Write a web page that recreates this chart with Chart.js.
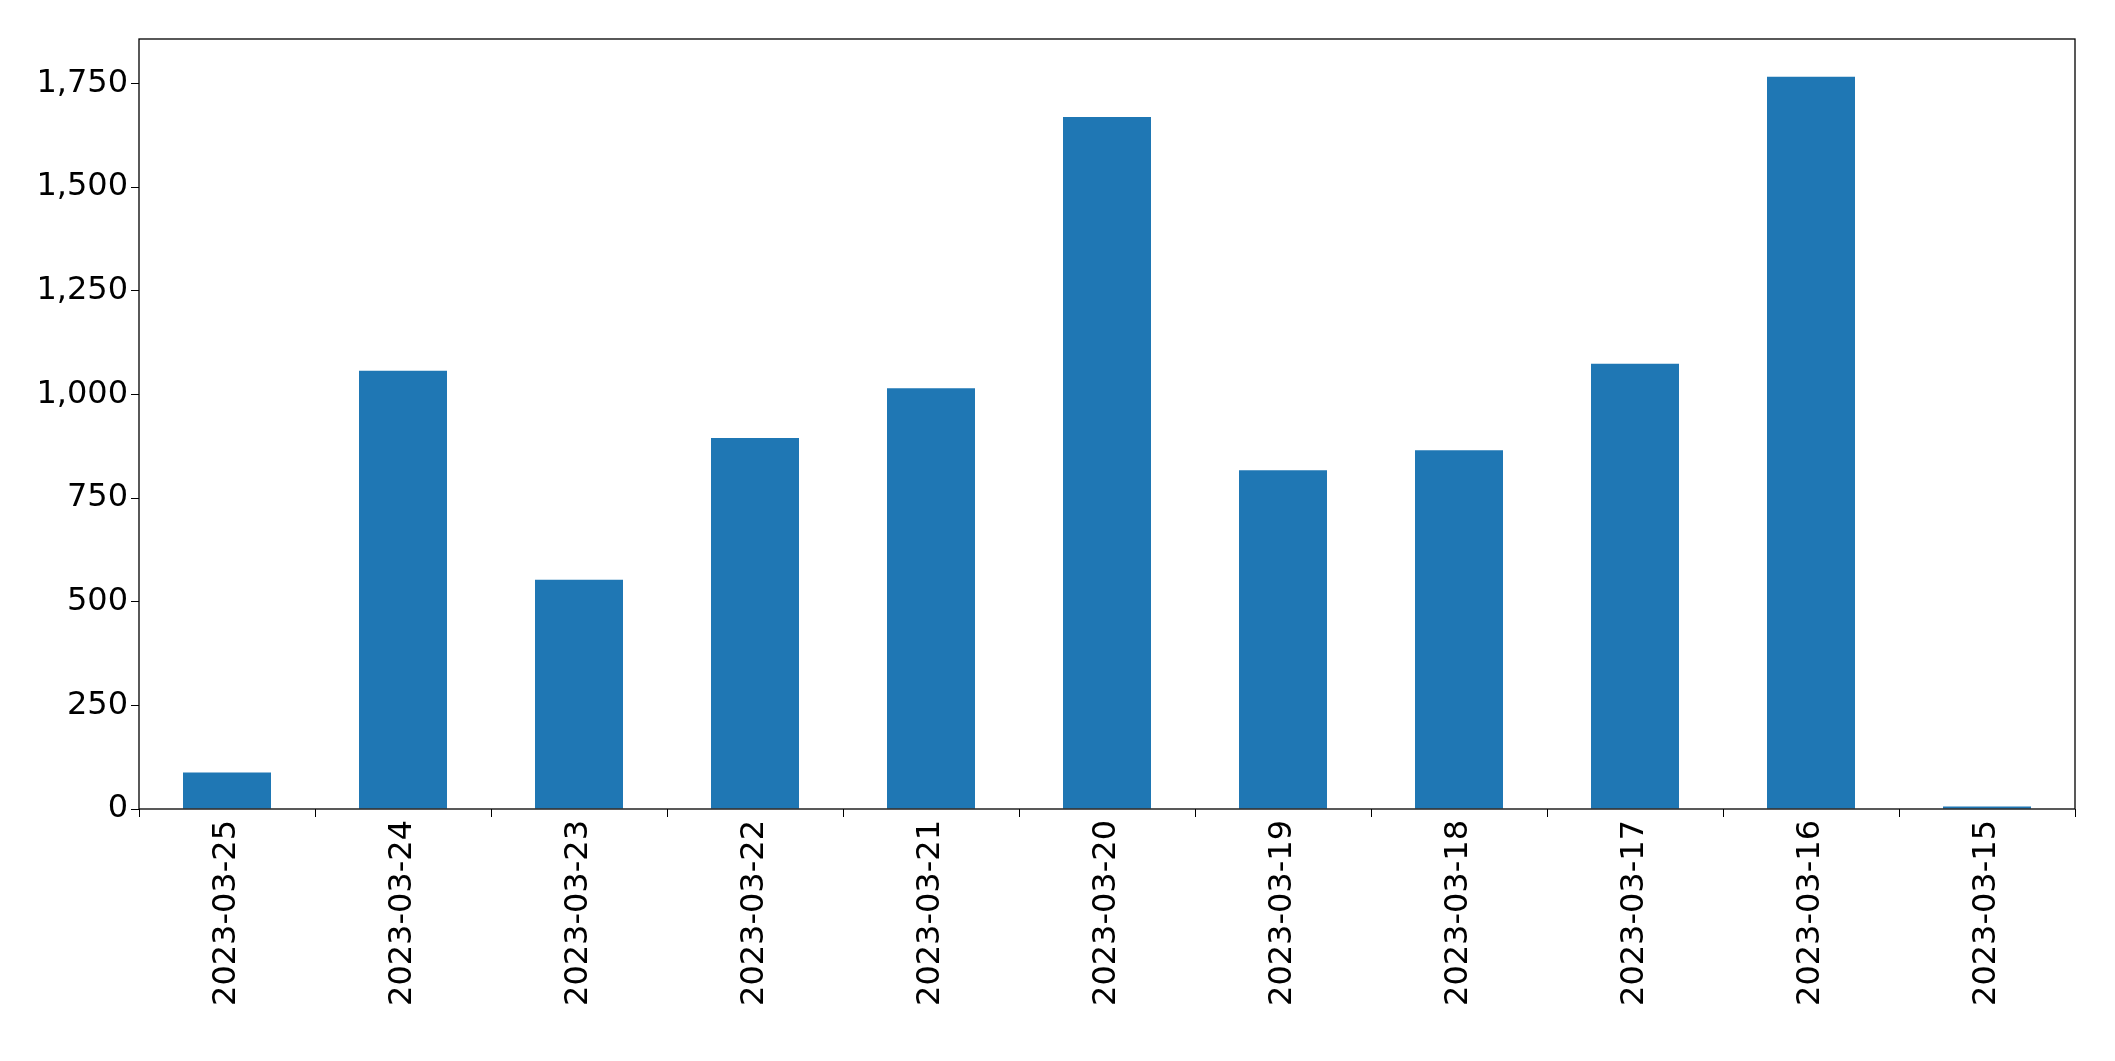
<html>
<head>
<script src="https://cdn.jsdelivr.net/npm/chart.js@4"></script>
</head>
<body style="margin:0;background:#fff">
<canvas id="c" width="2115" height="1061"></canvas>
<script>
var dates = ['2023-03-25','2023-03-24','2023-03-23','2023-03-22','2023-03-21','2023-03-20','2023-03-19','2023-03-18','2023-03-17','2023-03-16','2023-03-15'];
var counts = [88, 1057, 553, 895, 1015, 1669, 817, 865, 1074, 1766, 6];

var frame = {
    id: 'frame',
    afterDraw: function (chart) {
        var a = chart.chartArea, ctx = chart.ctx;
        ctx.save();
        ctx.strokeStyle = '#000';
        ctx.lineWidth = 1.3;
        ctx.strokeRect(a.left, a.top, a.right - a.left, a.bottom - a.top);
        ctx.restore();
    }
};

new Chart(document.getElementById('c').getContext('2d'), {
    type: 'bar',
    data: {
        labels: dates,
        datasets: [{data: counts, backgroundColor: '#1f77b4', barPercentage: 0.5, categoryPercentage: 1}]
    },
    options: {
        responsive: false,
        animation: false,
        layout: {padding: {top: 39, right: 40, left: 0, bottom: 0}},
        plugins: {legend: {display: false}, tooltip: {enabled: false}},
        scales: {
            x: {
                grid: {drawOnChartArea: false, color: '#000', tickLength: 8},
                border: {display: false},
                ticks: {minRotation: 90, maxRotation: 90, color: '#000', font: {family: 'DejaVu Sans', size: 32}},
                afterFit: function (s) { s.height = 252; }
            },
            y: {
                min: 0, max: 1857,
                grid: {drawOnChartArea: false, color: '#000', tickLength: 8},
                border: {display: false},
                ticks: {stepSize: 250, color: '#000', font: {family: 'DejaVu Sans', size: 32}},
                afterBuildTicks: function (s) { s.ticks = s.ticks.filter(function (t) { return t.value % 250 === 0; }); },
                afterFit: function (s) { s.width = 139; }
            }
        }
    },
    plugins: [frame]
});
</script>
</body>
</html>
